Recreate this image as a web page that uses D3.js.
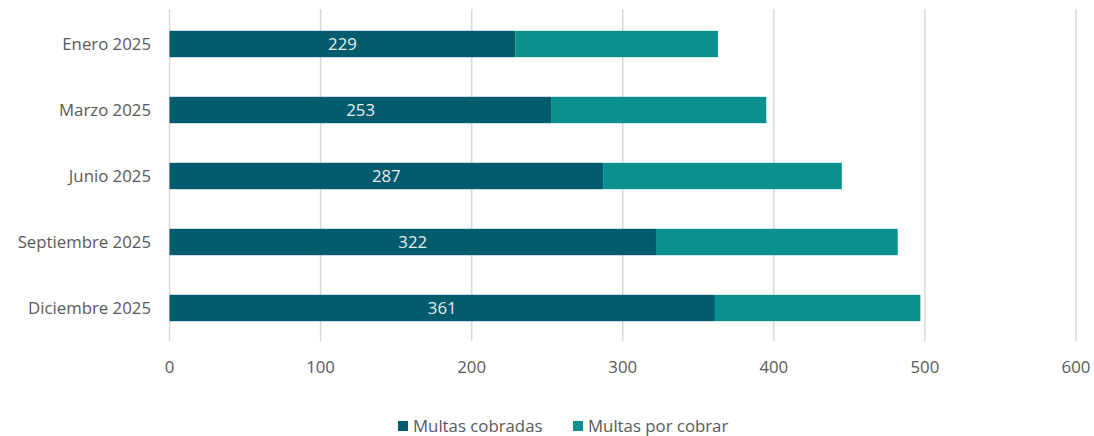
<!DOCTYPE html>
<html>
<head>
<meta charset="utf-8">
<script src="https://cdn.jsdelivr.net/npm/d3@7"></script>
<style>
  body { margin: 0; background: #fff; }
  svg text { font-family: "Open Sans", "Noto Sans", sans-serif; }
</style>
</head>
<body>
<div id="chart"></div>
<script>
// data
const months = ['Enero 2025', 'Marzo 2025', 'Junio 2025', 'Septiembre 2025', 'Diciembre 2025'];
const cobradas = [229, 253, 287, 322, 361];
const porCobrar = [134, 142, 158, 160, 136];
const xTicks = [0, 100, 200, 300, 400, 500, 600];
const seriesNames = ['Multas cobradas', 'Multas por cobrar'];
const colors = ['#035b6e', '#0b9090'];

const W = 1094, H = 436;
const margin = { top: 11, right: 18, bottom: 95, left: 169.5 };
const fontSize = '16.8px';

const svg = d3.select('#chart').append('svg')
    .attr('width', W)
    .attr('height', H);

const x = d3.scaleLinear()
    .domain([0, 600])
    .range([margin.left, 1076]);

const y = d3.scaleBand()
    .domain(months)
    .range([margin.top, H - margin.bottom])
    .paddingInner(0.6)
    .paddingOuter(0.3);

// gridlines
svg.append('g').selectAll('line')
    .data(xTicks)
    .join('line')
    .attr('x1', d => x(d)).attr('x2', d => x(d))
    .attr('y1', 9).attr('y2', 341)
    .attr('stroke', '#d9d9d9')
    .attr('stroke-width', 1.5);

// x tick labels
svg.append('g').selectAll('text')
    .data(xTicks)
    .join('text')
    .attr('x', d => x(d))
    .attr('y', 373)
    .attr('text-anchor', 'middle')
    .attr('fill', '#595959')
    .style('font-size', fontSize)
    .text(d => d);

// category labels
svg.append('g').selectAll('text')
    .data(months)
    .join('text')
    .attr('x', 151)
    .attr('y', d => y(d) + y.bandwidth() / 2)
    .attr('dy', '0.35em')
    .attr('text-anchor', 'end')
    .attr('fill', '#595959')
    .style('font-size', fontSize)
    .text(d => d);

const rows = months.map((m, i) => ({ month: m, a: cobradas[i], b: porCobrar[i] }));

// stacked bars
const barG = svg.append('g');
barG.selectAll('rect.a')
    .data(rows)
    .join('rect')
    .attr('class', 'a')
    .attr('x', x(0))
    .attr('y', d => y(d.month))
    .attr('width', d => x(d.a) - x(0))
    .attr('height', y.bandwidth())
    .attr('fill', colors[0]);
barG.selectAll('rect.b')
    .data(rows)
    .join('rect')
    .attr('class', 'b')
    .attr('x', d => x(d.a))
    .attr('y', d => y(d.month))
    .attr('width', d => x(d.a + d.b) - x(d.a))
    .attr('height', y.bandwidth())
    .attr('fill', colors[1]);

// value labels in the dark segment
barG.selectAll('text')
    .data(rows)
    .join('text')
    .attr('x', d => (x(0) + x(d.a)) / 2)
    .attr('y', d => y(d.month) + y.bandwidth() / 2)
    .attr('dy', '0.36em')
    .attr('text-anchor', 'middle')
    .attr('fill', '#e6eef0')
    .style('font-size', fontSize)
    .text(d => d.a);

// legend
const legend = svg.append('g').attr('transform', 'translate(398, 426)');
const legendX = [0, 175];
seriesNames.forEach((name, i) => {
    const g = legend.append('g').attr('transform', `translate(${legendX[i]}, 0)`);
    g.append('rect')
        .attr('x', 0).attr('y', -5)
        .attr('width', 10).attr('height', 10)
        .attr('fill', colors[i]);
    g.append('text')
        .attr('x', 15)
        .attr('dy', '0.35em')
        .attr('fill', '#595959')
        .style('font-size', fontSize)
        .text(name);
});
</script>
</body>
</html>
